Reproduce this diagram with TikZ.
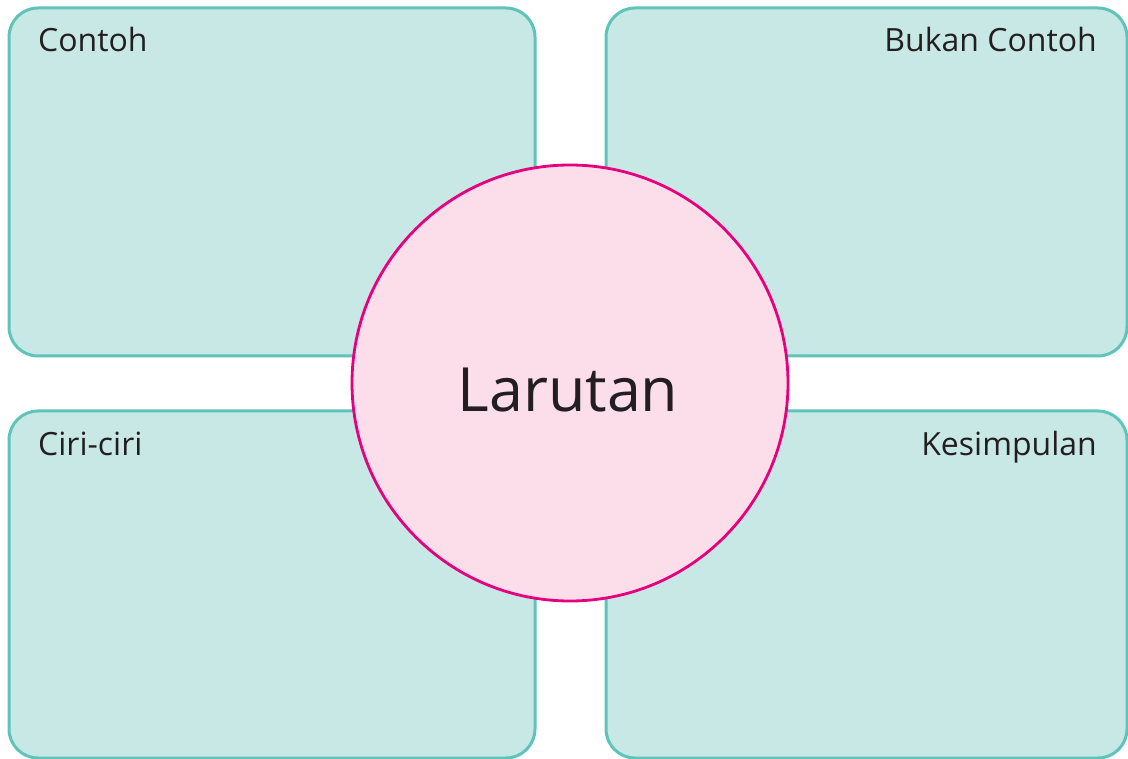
\documentclass[tikz,border=0pt]{standalone}
\usepackage{fontspec}
\setmainfont{Open Sans}
\usepackage{xcolor}
\usetikzlibrary{positioning}
\definecolor{cPanel}{RGB}{200,232,229}
\definecolor{cPanelLine}{RGB}{94,196,186}
\definecolor{cCore}{RGB}{252,222,234}
\definecolor{cCoreLine}{RGB}{230,0,126}
\definecolor{cInk}{RGB}{35,31,32}

\begin{document}
\begin{tikzpicture}[x=1pt,y=-1pt,
  panel/.style={fill=cPanel,draw=cPanelLine,line width=3pt,rounded corners=29pt},
  tag/.style={font=\fontsize{32}{36}\selectfont,text=cInk,inner sep=0pt}]
 \useasboundingbox (0,0) rectangle (1128,759);
 % ---- four panels ----
 \draw[panel] (9,8) rectangle (535,356);
 \draw[panel] (606,8) rectangle (1127,356);
 \draw[panel] (9,411) rectangle (535,758);
 \draw[panel] (606,411) rectangle (1127,758);
 % ---- panel titles ----
 \node[tag,anchor=base west] (contoh) at (38,52) {Contoh};
 \node[tag,anchor=base east] (bukan) at (1097,52) {Bukan Contoh};
 \node[tag,anchor=base west] (ciri) at (38,455) {Ciri-ciri};
 \node[tag,anchor=base east] (simpul) at (1097,455) {Kesimpulan};
 % ---- centre ----
 \node[circle,fill=cCore,draw=cCoreLine,line width=2.8pt,minimum size=436pt,inner sep=0pt]
      (core) at (570,383) {};
 \node[font=\fontsize{61}{70}\selectfont,text=cInk,inner sep=0pt,anchor=base]
      (larutan) at (568,412) {Larutan};
\end{tikzpicture}
\end{document}
